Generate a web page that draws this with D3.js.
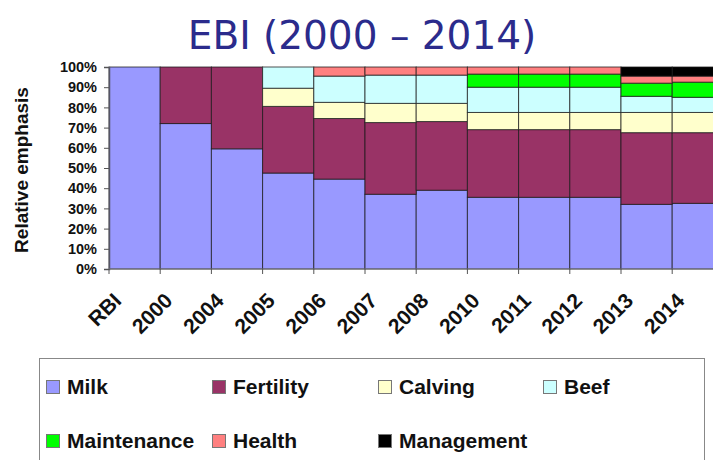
<!DOCTYPE html>
<html>
<head>
<meta charset="utf-8">
<script src="https://cdn.jsdelivr.net/npm/d3@7"></script>
<style>
  html, body { margin: 0; padding: 0; background: #fff; }
  svg { display: block; }
</style>
</head>
<body>
<svg id="chart" width="713" height="460"></svg>
<script>
// Relative emphasis of each trait group in the index, per year (percent)
const categories = ["RBI", "2000", "2004", "2005", "2006", "2007", "2008", "2010", "2011", "2012", "2013", "2014"];
const milk        = [100, 72, 59.5, 47.5, 44.5, 37, 39, 35.5, 35.5, 35.5, 32, 32.5];
const fertility   = [0, 28, 40.5, 33, 30, 35.5, 34, 33.5, 33.5, 33.5, 35.5, 35];
const calving     = [0, 0, 0, 9, 8, 9.5, 9, 8.5, 8.5, 8.5, 10, 10];
const beef        = [0, 0, 0, 10.5, 13, 14, 14, 12.5, 12.5, 12.5, 8, 7.5];
const maintenance = [0, 0, 0, 0, 0, 0, 0, 6.5, 6.5, 6.5, 6.5, 7.5];
const health      = [0, 0, 0, 0, 4.5, 4, 4, 3.5, 3.5, 3.5, 3.5, 3];
const management  = [0, 0, 0, 0, 0, 0, 0, 0, 0, 0, 4.5, 4.5];

const seriesNames = ["Milk", "Fertility", "Calving", "Beef", "Maintenance", "Health", "Management"];
const seriesValues = [milk, fertility, calving, beef, maintenance, health, management];
const seriesColors = ["#9999FF", "#993366", "#FFFFCC", "#CCFFFF", "#00FF00", "#FF8080", "#000000"];
const yTicks = [0, 10, 20, 30, 40, 50, 60, 70, 80, 90, 100];

const rows = categories.map((c, i) => {
  const r = { cat: c };
  seriesNames.forEach((s, k) => { r[s] = seriesValues[k][i]; });
  return r;
});

const svg = d3.select("#chart");
const plot = { left: 109, top: 67, bottom: 269, step: 51.2 };

const x = d3.scaleBand()
  .domain(categories)
  .range([plot.left, plot.left + plot.step * categories.length])
  .paddingInner(0).paddingOuter(0);

const y = d3.scaleLinear().domain([0, 100]).range([plot.bottom, plot.top]);

const color = d3.scaleOrdinal().domain(seriesNames).range(seriesColors);

const stacked = d3.stack().keys(seriesNames)(rows);

// Title
svg.append("text")
  .attr("x", 362).attr("y", 49)
  .attr("text-anchor", "middle")
  .attr("font-family", "DejaVu Sans, sans-serif")
  .attr("font-size", 39)
  .attr("fill", "#2B2B8C")
  .text("EBI (2000 \u2013 2014)");

// Stacked bars
const layer = svg.append("g").selectAll("g")
  .data(stacked).join("g")
  .attr("fill", d => color(d.key));

layer.selectAll("rect")
  .data(d => d.filter(p => p[1] - p[0] > 0))
  .join("rect")
  .attr("x", d => x(d.data.cat))
  .attr("width", x.bandwidth())
  .attr("y", d => y(d[1]))
  .attr("height", d => y(d[0]) - y(d[1]))
  .attr("stroke", "#1a1a1a")
  .attr("stroke-opacity", 0.75)
  .attr("stroke-width", 1);

// Y axis
const yAxis = d3.axisLeft(y)
  .tickValues(yTicks)
  .tickFormat(d => d + "%")
  .tickSize(5)
  .tickPadding(7);

const gy = svg.append("g")
  .attr("transform", `translate(${plot.left},0)`)
  .call(yAxis);
gy.select(".domain").attr("stroke", "#555566").attr("stroke-width", 1.5);
gy.selectAll(".tick line").attr("stroke", "#555");
gy.selectAll(".tick text")
  .attr("font-family", "Liberation Sans, Arial, sans-serif")
  .attr("font-weight", "bold")
  .attr("font-size", 14.5)
  .attr("fill", "#111");

// X axis: ticks sit on the boundaries between categories
const boundaries = d3.range(categories.length + 1).map(i => plot.left + i * x.step());
const gx = svg.append("g");
gx.append("line")
  .attr("x1", plot.left).attr("x2", x.range()[1])
  .attr("y1", plot.bottom).attr("y2", plot.bottom)
  .attr("stroke", "#777").attr("stroke-width", 1);
gx.selectAll("line.tk")
  .data(boundaries).join("line")
  .attr("class", "tk")
  .attr("x1", d => d).attr("x2", d => d)
  .attr("y1", plot.bottom).attr("y2", plot.bottom + 5)
  .attr("stroke", "#555");

gx.selectAll("text")
  .data(categories).join("text")
  .attr("transform", d => `translate(${x(d) + x.bandwidth() / 2 - 12},${plot.bottom + 33}) rotate(-45)`)
  .attr("text-anchor", "end")
  .attr("font-family", "Liberation Sans, Arial, sans-serif")
  .attr("font-weight", "bold")
  .attr("font-size", 21)
  .attr("fill", "#111")
  .text(d => d);

// Y axis title
svg.append("text")
  .attr("transform", "translate(28,170) rotate(-90)")
  .attr("text-anchor", "middle")
  .attr("font-family", "Liberation Sans, Arial, sans-serif")
  .attr("font-weight", "bold")
  .attr("font-size", 19)
  .attr("fill", "#111")
  .text("Relative emphasis");

// Legend
const legend = svg.append("g");
legend.append("rect")
  .attr("x", 39.5).attr("y", 358.5)
  .attr("width", 665).attr("height", 120)
  .attr("fill", "#fff")
  .attr("stroke", "#888");

const colX = [46, 212, 378, 543];
const rowY = [380, 434];
const items = legend.selectAll("g.item")
  .data(seriesNames).join("g")
  .attr("class", "item")
  .attr("transform", (d, i) => `translate(${colX[i % 4]},${rowY[Math.floor(i / 4)]})`);

items.append("rect")
  .attr("x", 0.5).attr("y", 0.5)
  .attr("width", 13).attr("height", 13)
  .attr("fill", d => color(d))
  .attr("stroke", "#777");

items.append("text")
  .attr("x", 21).attr("y", 13.5)
  .attr("font-family", "Liberation Sans, Arial, sans-serif")
  .attr("font-weight", "bold")
  .attr("font-size", 21)
  .attr("fill", "#111")
  .text(d => d);
</script>
</body>
</html>
